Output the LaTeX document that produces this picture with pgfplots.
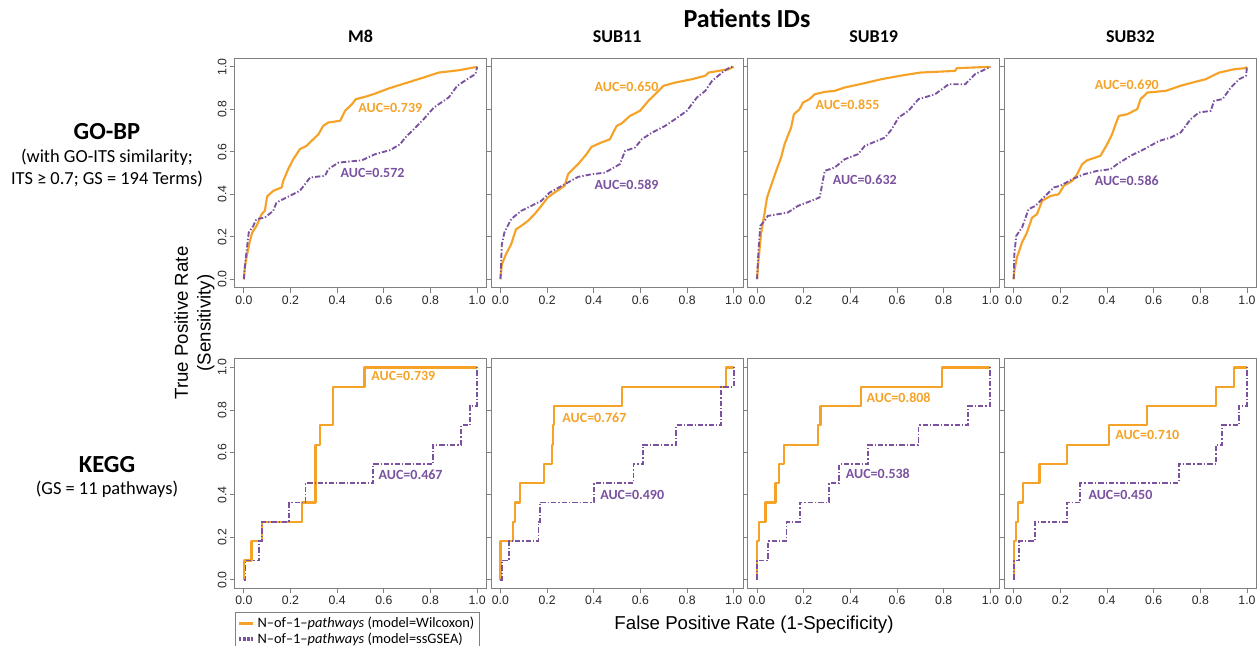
\documentclass[border=0pt]{standalone}
\usepackage{pgfplots}
\pgfplotsset{compat=1.18}
\usepackage{fontspec}
\setmainfont{Carlito}
\newfontfamily\arial{Liberation Sans}
\definecolor{oc}{RGB}{245,163,40}
\definecolor{pc}{RGB}{122,82,160}
\definecolor{bx}{RGB}{128,128,128}
\tikzset{
  wil/.style={oc, line width=1.6pt, line join=round},
  ssg/.style={pc, line width=1.4pt, dash pattern=on 4pt off 1.5pt on 1pt off 1.5pt},
  aucw/.style={anchor=west, text=oc, font=\bfseries\fontsize{10.5}{12}\selectfont, inner sep=1pt},
  aucs/.style={anchor=west, text=pc, font=\bfseries\fontsize{10.5}{12}\selectfont, inner sep=1pt},
}
\pgfplotsset{
  rocax/.style={scale only axis, width=189pt, height=172pt,
    xmin=-0.04,xmax=1.04,ymin=-0.04,ymax=1.04,
    xtick={0,0.2,0.4,0.6,0.8,1}, ytick={0,0.2,0.4,0.6,0.8,1},
    xticklabels={0.0,0.2,0.4,0.6,0.8,1.0},
    yticklabels={0.0,0.2,0.4,0.6,0.8,1.0},
    xtick pos=lower, ytick pos=left, tick align=outside,
    major tick length=3.75pt,
    axis line style={bx, line width=0.8pt}, tick style={bx, line width=0.6pt},
    tick label style={font=\arial\fontsize{9.2}{10}\selectfont, text=black!85},
    yticklabel style={rotate=90, anchor=south, inner sep=2pt},
    xticklabel style={inner sep=2pt},
    title style={font=\bfseries\fontsize{13.5}{15}\selectfont, at={(0.5,1)}, anchor=south, yshift=2pt},
    clip=false,
  },
  noy/.style={yticklabels={}},
}
\begin{document}
\begin{tikzpicture}[x=0.75pt,y=0.75pt]
\path[use as bounding box] (0,0) rectangle (1260,646);

% ---------------- GO-BP row ----------------
\begin{axis}[rocax, at={(175.875pt,268.725pt)}, anchor=south west, title={M8}]
\addplot[wil] coordinates {(0,0) (0.004,0.055) (0.014,0.118) (0.026,0.18) (0.036,0.22) (0.054,0.25) (0.076,0.306) (0.09,0.322) (0.1,0.39) (0.126,0.416) (0.162,0.432) (0.169,0.463) (0.19,0.518) (0.212,0.565) (0.24,0.612) (0.269,0.628) (0.29,0.651) (0.32,0.683) (0.34,0.722) (0.362,0.738) (0.413,0.746) (0.434,0.793) (0.463,0.824) (0.48,0.848) (0.52,0.859) (0.563,0.874) (0.62,0.898) (0.678,0.918) (0.771,0.95) (0.835,0.973) (0.921,0.984) (1,1)};
\addplot[ssg] coordinates {(0,0) (0.007,0.086) (0.021,0.22) (0.04,0.25) (0.054,0.283) (0.09,0.29) (0.126,0.322) (0.14,0.361) (0.183,0.385) (0.24,0.416) (0.262,0.447) (0.284,0.479) (0.348,0.487) (0.362,0.518) (0.405,0.549) (0.506,0.56) (0.563,0.589) (0.627,0.608) (0.67,0.636) (0.692,0.667) (0.728,0.706) (0.771,0.754) (0.814,0.808) (0.878,0.856) (0.914,0.91) (0.964,0.947) (0.993,0.966) (1,1)};
\node[aucw] at (axis cs:0.484,0.808) {AUC=0.739};
\node[aucs] at (axis cs:0.408,0.5) {AUC=0.572};
\end{axis}

\begin{axis}[rocax, noy, at={(368.325pt,268.725pt)}, anchor=south west, title={SUB11}]
\addplot[wil] coordinates {(0,0) (0.006,0.07) (0.024,0.118) (0.046,0.165) (0.067,0.235) (0.089,0.251) (0.118,0.275) (0.146,0.306) (0.175,0.345) (0.203,0.385) (0.232,0.408) (0.275,0.44) (0.29,0.495) (0.333,0.542) (0.369,0.589) (0.39,0.623) (0.433,0.644) (0.469,0.659) (0.498,0.722) (0.519,0.733) (0.555,0.769) (0.598,0.793) (0.634,0.84) (0.663,0.871) (0.699,0.911) (0.749,0.926) (0.821,0.942) (0.878,0.958) (0.892,0.973) (0.978,0.989) (1,1)};
\addplot[ssg] coordinates {(0,0) (0.006,0.165) (0.017,0.22) (0.046,0.283) (0.089,0.322) (0.132,0.345) (0.175,0.369) (0.211,0.408) (0.275,0.447) (0.333,0.482) (0.39,0.494) (0.448,0.502) (0.512,0.542) (0.534,0.604) (0.577,0.62) (0.606,0.659) (0.649,0.69) (0.706,0.722) (0.749,0.754) (0.799,0.793) (0.842,0.856) (0.878,0.887) (0.907,0.934) (0.95,0.973) (0.986,1) (1,1)};
\node[aucw] at (axis cs:0.397,0.907) {AUC=0.650};
\node[aucs] at (axis cs:0.397,0.447) {AUC=0.589};
\end{axis}

\begin{axis}[rocax, noy, at={(560.775pt,268.725pt)}, anchor=south west, title={SUB19}]
\addplot[wil] coordinates {(0,0) (0.006,0.086) (0.017,0.212) (0.029,0.29) (0.043,0.385) (0.06,0.44) (0.082,0.51) (0.103,0.573) (0.118,0.636) (0.132,0.675) (0.146,0.714) (0.158,0.777) (0.182,0.8) (0.197,0.832) (0.225,0.848) (0.247,0.871) (0.29,0.882) (0.333,0.887) (0.376,0.903) (0.44,0.918) (0.534,0.942) (0.613,0.958) (0.699,0.973) (0.849,0.981) (0.856,0.994) (1,1)};
\addplot[ssg] coordinates {(0,0) (0.006,0.133) (0.014,0.251) (0.032,0.275) (0.046,0.298) (0.089,0.306) (0.132,0.314) (0.175,0.345) (0.232,0.369) (0.268,0.385) (0.278,0.44) (0.29,0.51) (0.333,0.526) (0.376,0.565) (0.433,0.589) (0.462,0.628) (0.548,0.667) (0.577,0.706) (0.606,0.761) (0.649,0.793) (0.692,0.848) (0.763,0.871) (0.821,0.918) (0.892,0.918) (0.935,0.966) (1,1)};
\node[aucw] at (axis cs:0.244,0.824) {AUC=0.855};
\node[aucs] at (axis cs:0.318,0.466) {AUC=0.632};
\end{axis}

\begin{axis}[rocax, noy, at={(753.225pt,268.725pt)}, anchor=south west, title={SUB32}]
\addplot[wil] coordinates {(0,0) (0.003,0.039) (0.014,0.102) (0.036,0.173) (0.057,0.22) (0.079,0.29) (0.1,0.306) (0.122,0.369) (0.158,0.392) (0.193,0.4) (0.215,0.44) (0.251,0.463) (0.272,0.494) (0.294,0.542) (0.315,0.56) (0.372,0.581) (0.401,0.636) (0.422,0.683) (0.437,0.73) (0.451,0.769) (0.487,0.777) (0.53,0.801) (0.544,0.848) (0.573,0.879) (0.652,0.887) (0.716,0.911) (0.766,0.926) (0.824,0.942) (0.881,0.973) (0.946,0.989) (0.993,0.994) (1,1)};
\addplot[ssg] coordinates {(0,0) (0.003,0.118) (0.011,0.204) (0.036,0.243) (0.064,0.33) (0.093,0.345) (0.122,0.377) (0.172,0.432) (0.2,0.44) (0.251,0.471) (0.301,0.494) (0.358,0.51) (0.415,0.518) (0.444,0.542) (0.501,0.581) (0.559,0.612) (0.623,0.651) (0.673,0.667) (0.716,0.691) (0.759,0.754) (0.794,0.785) (0.845,0.793) (0.859,0.84) (0.895,0.848) (0.931,0.903) (0.967,0.942) (0.996,0.958) (1,1)};
\node[aucw] at (axis cs:0.341,0.915) {AUC=0.690};
\node[aucs] at (axis cs:0.341,0.466) {AUC=0.586};
\end{axis}

% ---------------- KEGG row ----------------
\begin{axis}[rocax, at={(175.875pt,43.275pt)}, anchor=south west,
  legend image code/.code={\draw[#1] (0pt,0pt) -- (11pt,0pt);},
  legend style={draw=bx, fill=white, at={(0,-0.1035)}, anchor=north west,
    font=\fontsize{10.8}{12}\selectfont, cells={anchor=west}, inner sep=1.5pt, row sep=-1.5pt}]
\addlegendimage{oc, line width=2.6pt}
\addlegendentry{N–of–1–\textit{pathways} (model=Wilcoxon)}
\addlegendimage{pc, line width=2.6pt, dash pattern=on 2.2pt off 1pt}
\addlegendentry{N–of–1–\textit{pathways} (model=ssGSEA)}
\addplot[wil, const plot, forget plot] coordinates {(0,0) (0,0.091) (0.033,0.182) (0.076,0.273) (0.25,0.364) (0.307,0.636) (0.326,0.727) (0.383,0.909) (0.517,1.0) (1.0,1.0)};
\addplot[ssg, const plot, forget plot] coordinates {(0,0) (0.007,0.091) (0.066,0.182) (0.076,0.273) (0.194,0.364) (0.264,0.455) (0.554,0.545) (0.811,0.636) (0.931,0.727) (0.969,0.818) (1.0,1.0)};
\node[aucw] at (axis cs:0.54,0.958) {AUC=0.739};
\node[aucs] at (axis cs:0.571,0.495) {AUC=0.467};
\end{axis}

\begin{axis}[rocax, noy, at={(368.325pt,43.275pt)}, anchor=south west]
\addplot[wil, const plot] coordinates {(0,0) (0,0.182) (0.054,0.273) (0.062,0.364) (0.083,0.455) (0.188,0.545) (0.222,0.636) (0.226,0.727) (0.229,0.818) (0.52,0.909) (0.967,1.0) (1.0,1.0)};
\addplot[ssg, const plot] coordinates {(0,0) (0.006,0.091) (0.037,0.182) (0.163,0.273) (0.17,0.364) (0.401,0.455) (0.57,0.545) (0.61,0.636) (0.754,0.727) (0.946,0.909) (1.0,1.0)};
\node[aucw] at (axis cs:0.259,0.761) {AUC=0.767};
\node[aucs] at (axis cs:0.421,0.4) {AUC=0.490};
\end{axis}

\begin{axis}[rocax, noy, at={(560.775pt,43.275pt)}, anchor=south west]
\addplot[wil, const plot] coordinates {(0,0) (0,0.182) (0.01,0.273) (0.036,0.364) (0.079,0.455) (0.093,0.545) (0.115,0.636) (0.262,0.727) (0.272,0.818) (0.447,0.909) (0.792,1.0) (1,1)};
\addplot[ssg, const plot] coordinates {(0,0) (0,0.091) (0.047,0.182) (0.126,0.273) (0.183,0.364) (0.309,0.455) (0.352,0.545) (0.477,0.636) (0.692,0.727) (0.904,0.818) (1.0,1.0)};
\node[aucw] at (axis cs:0.463,0.859) {AUC=0.808};
\node[aucs] at (axis cs:0.374,0.5) {AUC=0.538};
\end{axis}

\begin{axis}[rocax, noy, at={(753.225pt,43.275pt)}, anchor=south west]
\addplot[wil, const plot] coordinates {(0,0) (0,0.182) (0.01,0.273) (0.02,0.364) (0.039,0.455) (0.111,0.545) (0.229,0.636) (0.407,0.727) (0.571,0.818) (0.867,0.909) (0.943,1.0) (1,1)};
\addplot[ssg, const plot] coordinates {(0,0) (0,0.091) (0.023,0.182) (0.091,0.273) (0.229,0.364) (0.286,0.455) (0.707,0.545) (0.867,0.636) (0.893,0.727) (0.964,0.818) (1.0,1.0)};
\node[aucw] at (axis cs:0.429,0.683) {AUC=0.710};
\node[aucs] at (axis cs:0.314,0.4) {AUC=0.450};
\end{axis}

% ---------------- texts ----------------
\node[font=\bfseries\fontsize{19.5}{22}\selectfont] at (747,628) {Patients IDs};
\node[font=\bfseries\fontsize{18.4}{20}\selectfont] at (107,514) {GO-BP};
\node[font=\fontsize{13.8}{16}\selectfont] at (107,489) {(with GO-ITS similarity;};
\node[font=\fontsize{13.8}{16}\selectfont] at (107,466.5) {ITS ≥ 0.7; GS = 194 Terms)};
\node[font=\bfseries\fontsize{18.4}{20}\selectfont] at (107,181) {KEGG};
\node[font=\fontsize{13.8}{16}\selectfont] at (107,157) {(GS = 11 pathways)};
\node[rotate=90, align=center, font=\arial\fontsize{14}{17}\selectfont] at (194.5,323) {True Positive Rate\\(Sensitivity)};
\node[font=\arial\fontsize{14}{17}\selectfont] at (754,21) {False Positive Rate (1-Specificity)};
\end{tikzpicture}
\end{document}
